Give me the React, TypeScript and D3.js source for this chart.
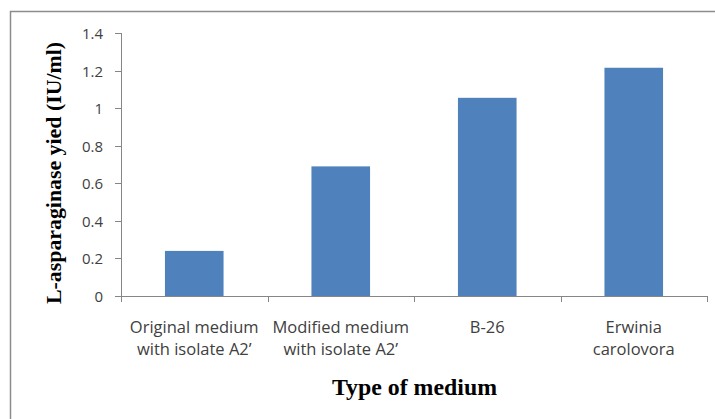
import React, { useEffect, useRef } from "react";
import * as d3 from "d3";

const categories: string[][] = [
  ["Original medium", "with isolate A2\u2019"],
  ["Modified medium", "with isolate A2\u2019"],
  ["B-26"],
  ["Erwinia", "carolovora"],
];
const yields: number[] = [0.24, 0.69, 1.055, 1.215];
const yTicks: number[] = [0, 0.2, 0.4, 0.6, 0.8, 1, 1.2, 1.4];

const W = 715;
const H = 419;
const plot = { left: 121, right: 707, top: 33, bottom: 296 };

export default function App() {
  const ref = useRef<SVGSVGElement>(null);

  useEffect(() => {
    const svg = d3.select(ref.current);
    svg.selectAll("*").remove();

    // chart area frame
    svg
      .append("rect")
      .attr("x", 10.5)
      .attr("y", 11.5)
      .attr("width", W + 20)
      .attr("height", H + 20)
      .attr("fill", "white")
      .attr("stroke", "#8c8c8c")
      .attr("stroke-width", 1.5);

    const idx = categories.map((_, i) => i);
    const x = d3
      .scaleBand<number>()
      .domain(idx)
      .range([plot.left, plot.right])
      .paddingInner(0.6)
      .paddingOuter(0.3);
    const y = d3.scaleLinear().domain([0, 1.4]).range([plot.bottom, plot.top]);

    // bars
    svg
      .append("g")
      .selectAll("rect")
      .data(yields)
      .join("rect")
      .attr("x", (_, i) => x(i) ?? 0)
      .attr("width", x.bandwidth())
      .attr("y", (d) => y(d))
      .attr("height", (d) => plot.bottom - y(d))
      .attr("fill", "#4f81bd");

    const axisColor = "#868686";
    const band = (plot.right - plot.left) / categories.length;

    // y axis
    const yAxis = svg.append("g");
    yAxis
      .append("line")
      .attr("x1", plot.left + 0.5)
      .attr("x2", plot.left + 0.5)
      .attr("y1", plot.top)
      .attr("y2", plot.bottom)
      .attr("stroke", axisColor);
    yTicks.forEach((t) => {
      const yy = Math.round(y(t)) + 0.5;
      yAxis
        .append("line")
        .attr("x1", plot.left - 6)
        .attr("x2", plot.left)
        .attr("y1", yy)
        .attr("y2", yy)
        .attr("stroke", axisColor);
      yAxis
        .append("text")
        .attr("x", 103)
        .attr("y", yy)
        .attr("dy", "0.35em")
        .attr("text-anchor", "end")
        .attr("font-family", "'Open Sans', sans-serif")
        .attr("font-size", 15)
        .attr("fill", "#404040")
        .text(d3.format("~g")(t));
    });

    // x axis
    const xAxis = svg.append("g");
    xAxis
      .append("line")
      .attr("x1", plot.left)
      .attr("x2", plot.right)
      .attr("y1", plot.bottom + 0.5)
      .attr("y2", plot.bottom + 0.5)
      .attr("stroke", axisColor);
    d3.range(categories.length + 1).forEach((i) => {
      const xx = Math.round(plot.left + band * i) + 0.5;
      xAxis
        .append("line")
        .attr("x1", xx)
        .attr("x2", xx)
        .attr("y1", plot.bottom)
        .attr("y2", plot.bottom + 6)
        .attr("stroke", axisColor);
    });
    categories.forEach((lines, i) => {
      const cx = (x(i) ?? 0) + x.bandwidth() / 2;
      const t = xAxis
        .append("text")
        .attr("text-anchor", "middle")
        .attr("font-family", "'Open Sans', sans-serif")
        .attr("font-size", 16.5)
        .attr("fill", "#404040");
      lines.forEach((l, j) => {
        t.append("tspan")
          .attr("x", cx)
          .attr("y", 333 + j * 22)
          .text(l);
      });
    });

    // axis titles
    svg
      .append("text")
      .attr("x", 414.5)
      .attr("y", 395)
      .attr("text-anchor", "middle")
      .attr("font-family", "'Liberation Serif', 'Times New Roman', serif")
      .attr("font-weight", "bold")
      .attr("font-size", 23)
      .attr("textLength", 165)
      .attr("lengthAdjust", "spacingAndGlyphs")
      .attr("fill", "#000")
      .text("Type of medium");

    svg
      .append("text")
      .attr("transform", "translate(61,173) rotate(-90)")
      .attr("text-anchor", "middle")
      .attr("font-family", "'Liberation Serif', 'Times New Roman', serif")
      .attr("font-weight", "bold")
      .attr("font-size", 22)
      .attr("textLength", 262)
      .attr("lengthAdjust", "spacingAndGlyphs")
      .attr("fill", "#000")
      .text("L-asparaginase yied (IU/ml)");
  }, []);

  return (
    <svg
      ref={ref}
      width={W}
      height={H}
      style={{ position: "absolute", left: 0, top: 0, display: "block" }}
    />
  );
}
